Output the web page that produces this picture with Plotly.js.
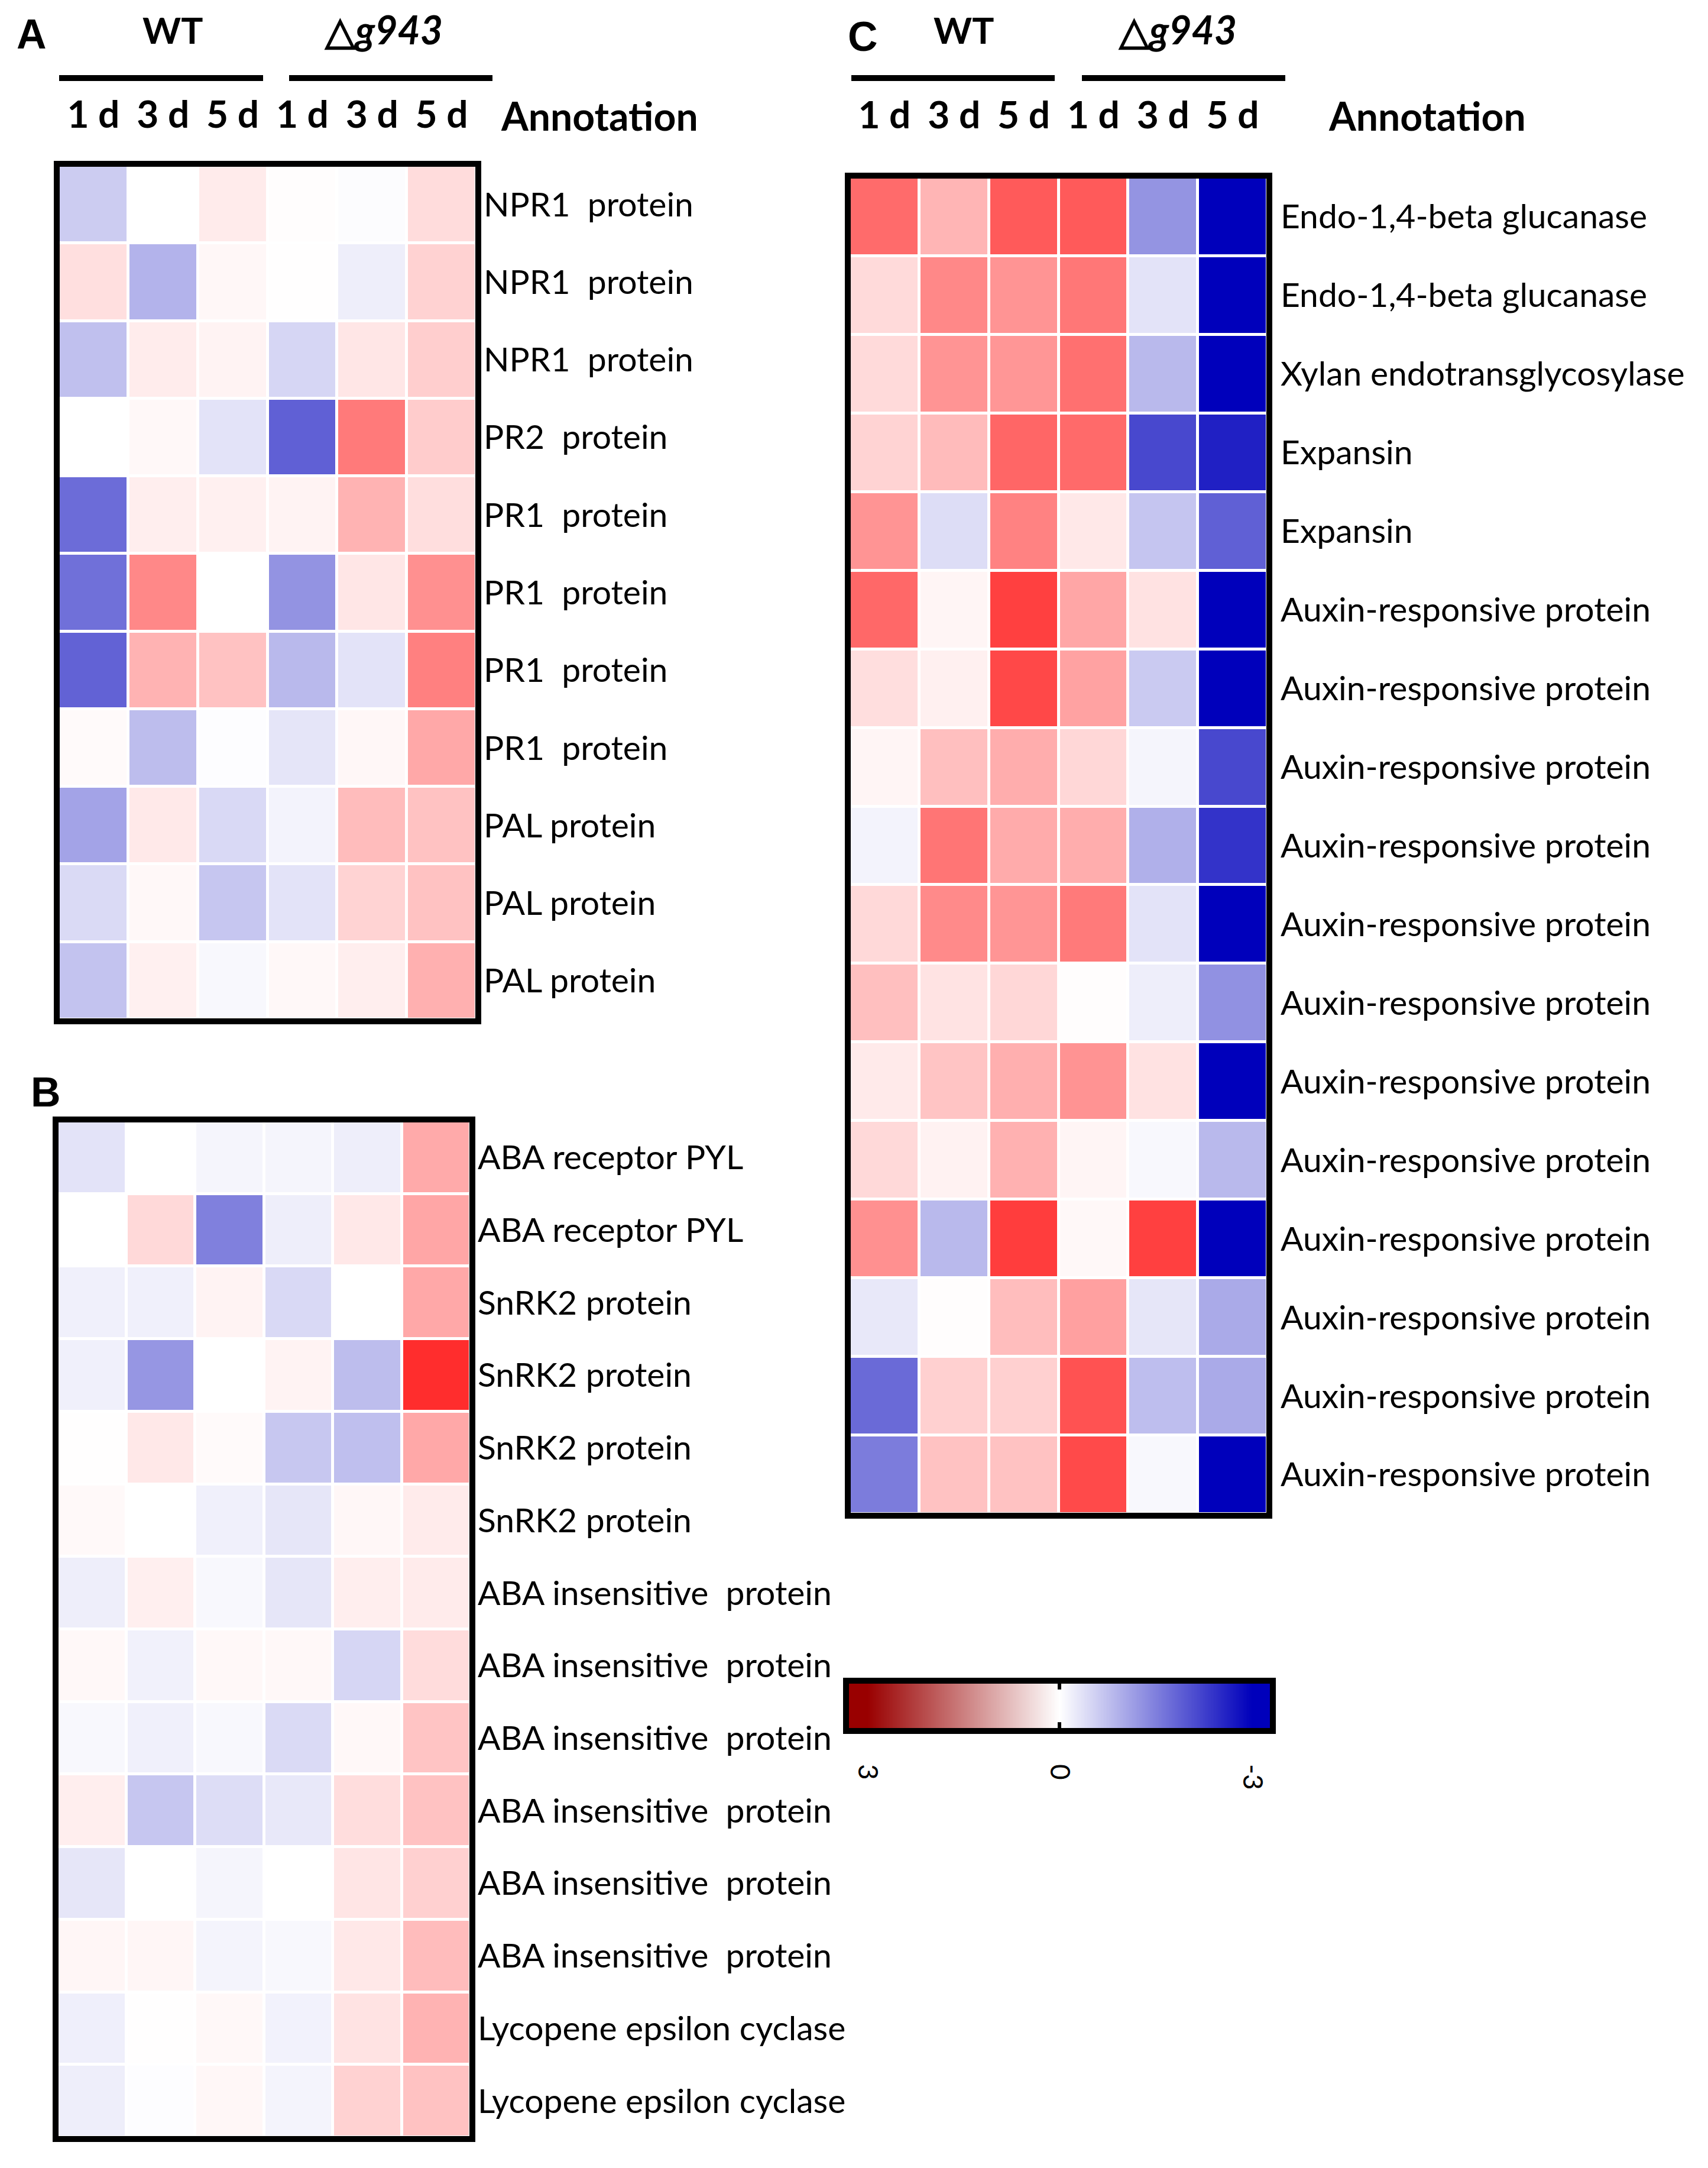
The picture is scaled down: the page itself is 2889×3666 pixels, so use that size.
<!DOCTYPE html>
<html>
<head>
<meta charset="utf-8">
<script src="https://cdn.plot.ly/plotly-3.0.1.min.js"></script>
<style>html,body{margin:0;padding:0;background:#ffffff;}</style>
</head>
<body>
<div id="chart" style="width:2889px;height:3666px;"></div>
<script>
// ---------------- data ----------------
const columnLabels = ["1 d", "3 d", "5 d", "1 d", "3 d", "5 d"];
const groupWT = "WT";
const groupMutant = "△<i>g943</i>";
const annotationHeader = "Annotation";

const rowsA = [
  "NPR1\u00a0 protein", "NPR1\u00a0 protein", "NPR1\u00a0 protein", "PR2\u00a0 protein",
  "PR1\u00a0 protein", "PR1\u00a0 protein", "PR1\u00a0 protein", "PR1\u00a0 protein",
  "PAL protein", "PAL protein", "PAL protein"
];
const valuesA = [
  [-0.60, 0.00, 0.23, 0.02, -0.03, 0.41],
  [0.38, -0.89, 0.10, 0.01, -0.20, 0.53],
  [-0.74, 0.22, 0.14, -0.48, 0.29, 0.58],
  [0.00, 0.08, -0.33, -1.87, 1.56, 0.60],
  [-1.73, 0.20, 0.18, 0.14, 0.89, 0.39],
  [-1.68, 1.40, 0.00, -1.27, 0.29, 1.31],
  [-1.85, 0.89, 0.72, -0.82, -0.33, 1.49],
  [0.06, -0.78, -0.02, -0.31, 0.10, 1.02],
  [-1.08, 0.26, -0.45, -0.14, 0.79, 0.72],
  [-0.44, 0.08, -0.67, -0.33, 0.52, 0.72],
  [-0.71, 0.18, -0.08, 0.08, 0.20, 0.93]
];

const rowsB = [
  "ABA receptor PYL", "ABA receptor PYL", "SnRK2 protein", "SnRK2 protein",
  "SnRK2 protein", "SnRK2 protein", "ABA insensitive\u00a0 protein", "ABA insensitive\u00a0 protein",
  "ABA insensitive\u00a0 protein", "ABA insensitive\u00a0 protein", "ABA insensitive\u00a0 protein",
  "ABA insensitive\u00a0 protein", "Lycopene epsilon cyclase", "Lycopene epsilon cyclase"
];
const valuesB = [
  [-0.33, 0.00, -0.12, -0.12, -0.20, 1.00],
  [0.00, 0.45, -1.49, -0.20, 0.27, 1.05],
  [-0.18, -0.18, 0.14, -0.45, 0.00, 1.02],
  [-0.18, -1.23, 0.00, 0.14, -0.78, 2.47],
  [0.01, 0.27, 0.06, -0.66, -0.75, 1.02],
  [0.07, 0.00, -0.18, -0.29, 0.10, 0.23],
  [-0.20, 0.19, -0.08, -0.30, 0.20, 0.23],
  [0.08, -0.16, 0.08, 0.08, -0.48, 0.41],
  [-0.08, -0.18, -0.08, -0.44, 0.08, 0.70],
  [0.20, -0.67, -0.40, -0.27, 0.40, 0.72],
  [-0.30, 0.00, -0.12, 0.00, 0.31, 0.55],
  [0.11, 0.11, -0.13, -0.08, 0.27, 0.79],
  [-0.19, 0.01, 0.08, -0.15, 0.33, 0.89],
  [-0.20, -0.02, 0.10, -0.13, 0.53, 0.72]
];

const rowsC = [
  "Endo-1,4-beta glucanase", "Endo-1,4-beta glucanase", "Xylan endotransglycosylase",
  "Expansin", "Expansin", "Auxin-responsive protein", "Auxin-responsive protein",
  "Auxin-responsive protein", "Auxin-responsive protein", "Auxin-responsive protein",
  "Auxin-responsive protein", "Auxin-responsive protein", "Auxin-responsive protein",
  "Auxin-responsive protein", "Auxin-responsive protein", "Auxin-responsive protein",
  "Auxin-responsive protein"
];
const valuesC = [
  [1.74, 0.87, 1.94, 1.94, -1.26, -3.00],
  [0.44, 1.40, 1.26, 1.60, -0.33, -3.00],
  [0.44, 1.26, 1.24, 1.68, -0.82, -3.00],
  [0.52, 0.80, 1.80, 1.75, -2.15, -2.62],
  [1.26, -0.40, 1.47, 0.27, -0.68, -1.87],
  [1.78, 0.12, 2.25, 1.05, 0.34, -3.00],
  [0.39, 0.18, 2.15, 1.09, -0.62, -3.00],
  [0.12, 0.75, 0.96, 0.47, -0.12, -2.15],
  [-0.14, 1.62, 0.99, 0.96, -0.93, -2.40],
  [0.45, 1.38, 1.25, 1.56, -0.33, -3.00],
  [0.75, 0.33, 0.47, 0.02, -0.20, -1.29],
  [0.25, 0.69, 0.94, 1.27, 0.34, -3.00],
  [0.45, 0.15, 0.92, 0.12, -0.08, -0.82],
  [1.31, -0.82, 2.28, 0.08, 2.25, -3.00],
  [-0.27, 0.02, 0.78, 1.12, -0.29, -1.00],
  [-1.75, 0.55, 0.55, 2.03, -0.77, -1.00],
  [-1.54, 0.72, 0.72, 2.13, -0.08, -3.00]
];

// legend scale (colour key) end points and labels
const keyValues = [-3, 0, 3];
const keyTickValues = [3, 0, -3];
const keyTickLabels = ["3", "0", "-3"];

// ---------------- layout helpers ----------------
const W = 2889, H = 3666;
const X = p => p / W;
const Y = p => 1 - p / H;

const cellScale = [[0, "#0000BB"], [0.5, "#FFFFFF"], [1, "#FF0000"]];
const keyScale = [[0, "#0000BB"], [0.5, "#FFFFFF"], [1, "#990000"]];

const FONT = "Lato, 'Open Sans', sans-serif";
const idx = arr => arr.map((_, i) => i);
const colIdx = idx(columnLabels);

function heat(z, xa, ya) {
  return {
    type: "heatmap", z: z, x: colIdx, y: idx(z), xaxis: xa, yaxis: ya,
    colorscale: cellScale, zmin: -3, zmax: 3, xgap: 5, ygap: 5,
    showscale: false, hoverinfo: "skip"
  };
}

const traces = [
  heat(valuesA, "x", "y"),
  heat(valuesB, "x2", "y2"),
  heat(valuesC, "x3", "y3"),
  {
    type: "heatmap", z: [keyValues], x: keyValues, y: [0], xaxis: "x4", yaxis: "y4",
    colorscale: keyScale, zmin: -3, zmax: 3, zsmooth: "best",
    showscale: false, hoverinfo: "skip"
  }
];

const colTickFont = {family: FONT, size: 64, color: "#000", weight: "bold"};
const rowTickFont = {family: FONT, size: 57, color: "#000"};

function xTop(domain, show, standoff) {
  return {
    domain: domain, range: [-0.5, 5.5], side: "top", fixedrange: true,
    tickvals: colIdx, ticktext: columnLabels, showticklabels: show,
    tickfont: colTickFont, ticks: "", ticklabelstandoff: standoff,
    showgrid: false, zeroline: false, showline: false
  };
}
function yRight(domain, labels, standoff) {
  return {
    domain: domain, range: [labels.length - 0.5, -0.5], side: "right", fixedrange: true,
    tickvals: idx(labels), ticktext: labels, tickfont: rowTickFont,
    ticks: "", ticklabelstandoff: standoff,
    showgrid: false, zeroline: false, showline: false
  };
}

const boxA = {x0: 99, x1: 806, y0: 280, y1: 1724};
const boxB = {x0: 97, x1: 796, y0: 1896, y1: 3614};
const boxC = {x0: 1437, x1: 2144, y0: 300, y1: 2560};
const boxK = {x0: 1434, x1: 2150, y0: 2845, y1: 2924};

function border(b, off) {
  return {
    type: "rect", xref: "paper", yref: "paper",
    x0: X(b.x0 - off), x1: X(b.x1 + off), y0: Y(b.y1 + off), y1: Y(b.y0 - off),
    line: {color: "#000", width: 10}, fillcolor: "rgba(0,0,0,0)"
  };
}
function hline(x0, x1, y) {
  return {type: "line", xref: "paper", yref: "paper", x0: X(x0), x1: X(x1), y0: Y(y), y1: Y(y),
          line: {color: "#000", width: 10}};
}
// centre mark of the colour key (at value 0), top and bottom
function keyMark(yFrom, yTo) {
  return {type: "line", xref: "x4", yref: "y4", x0: 0, x1: 0, y0: yFrom, y1: yTo,
          line: {color: "#000", width: 6}};
}

function label(text, x, y, size, opts) {
  return Object.assign({
    text: text, xref: "paper", yref: "paper", x: X(x), y: Y(y),
    xanchor: "center", yanchor: "middle", showarrow: false,
    font: {family: FONT, size: size, color: "#000", weight: "bold"}
  }, opts || {});
}

const panelFont = {family: "'Liberation Sans', Arial, sans-serif", size: 70, color: "#000", weight: "bold"};

const layout = {
  width: W, height: H, margin: {l: 0, r: 0, t: 0, b: 0, pad: 0},
  paper_bgcolor: "#ffffff", plot_bgcolor: "#ffffff", showlegend: false,
  xaxis: Object.assign(xTop([X(boxA.x0), X(boxA.x1)], true, 50), {anchor: "y"}),
  yaxis: Object.assign(yRight([Y(boxA.y1), Y(boxA.y0)], rowsA, 11), {anchor: "x"}),
  xaxis2: Object.assign(xTop([X(boxB.x0), X(boxB.x1)], false, 50), {anchor: "y2"}),
  yaxis2: Object.assign(yRight([Y(boxB.y1), Y(boxB.y0)], rowsB, 11), {anchor: "x2"}),
  xaxis3: Object.assign(xTop([X(boxC.x0), X(boxC.x1)], true, 69), {anchor: "y3"}),
  yaxis3: Object.assign(yRight([Y(boxC.y1), Y(boxC.y0)], rowsC, 21), {anchor: "x3"}),
  xaxis4: {
    domain: [X(boxK.x0), X(boxK.x1)], range: [3.3, -3.3], anchor: "y4", side: "bottom",
    fixedrange: true, tickvals: keyTickValues, ticktext: keyTickLabels, tickangle: 90,
    tickfont: {family: FONT, size: 46, color: "#000"},
    ticks: "", ticklabelstandoff: 58, showgrid: false, zeroline: false, showline: false
  },
  yaxis4: {domain: [Y(boxK.y1), Y(boxK.y0)], range: [-0.5, 0.5], anchor: "x4",
           visible: false, fixedrange: true},
  shapes: [
    border(boxA, 3), border(boxB, 3), border(boxC, 3), border(boxK, 3),
    hline(100, 445, 132), hline(489, 833, 132),
    hline(1440, 1784, 132), hline(1830, 2174, 132),
    keyMark(0.5, 0.35), keyMark(-0.5, -0.35)
  ],
  annotations: [
    Object.assign(label("A", 54, 58, 70), {font: panelFont}),
    Object.assign(label("B", 77, 1847, 70), {font: panelFont}),
    Object.assign(label("C", 1460, 62, 70), {font: panelFont}),
    label(groupWT, 292, 50, 62),
    label(groupMutant, 648, 50, 66),
    label(groupWT, 1630, 50, 62),
    label(groupMutant, 1991, 50, 66),
    label(annotationHeader, 1014, 195, 66),
    label(annotationHeader, 2414, 195, 66)
  ]
};

Plotly.newPlot("chart", traces, layout, {staticPlot: true, displayModeBar: false});
</script>
</body>
</html>
